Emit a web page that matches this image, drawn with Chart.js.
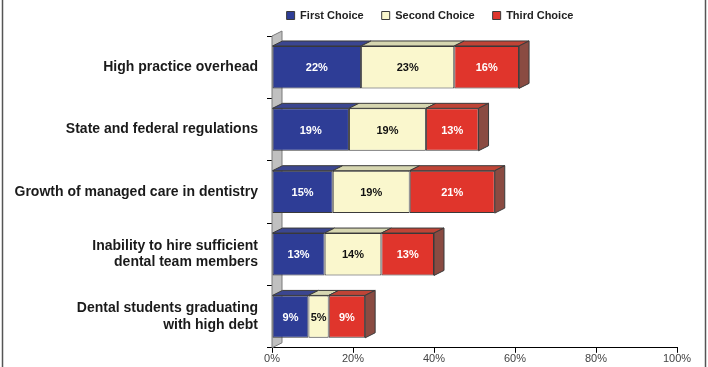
<!DOCTYPE html>
<html>
<head>
<meta charset="utf-8">
<script src="https://cdn.jsdelivr.net/npm/chart.js@4.4.1/dist/chart.umd.min.js"></script>
<style>
  html, body { margin: 0; padding: 0; background: #fff; }
  #wrap { width: 708px; height: 367px; position: relative; }
</style>
</head>
<body>
<div id="wrap"><canvas id="issuesChart"></canvas></div>
<script>
const categories = [
    'High practice overhead',
    'State and federal regulations',
    'Growth of managed care in dentistry',
    ['Inability to hire sufficient', 'dental team members'],
    ['Dental students graduating', 'with high debt']
];
const firstChoice = [22, 19, 15, 13, 9];
const secondChoice = [23, 19, 19, 14, 5];
const thirdChoice = [16, 13, 21, 13, 9];
const xTicks = [0, 20, 40, 60, 80, 100];

// depth of the fake 3D extrusion
const DX = 10, DY = -5;
const topColors = ['#3b4690', '#d6d6b0', '#bf4436'];
const sideColor = '#8a4b42';
const labelColors = ['#ffffff', '#111111', '#ffffff'];
const FONT = '"Liberation Sans", Arial, sans-serif';

// legend sits centred a bit right of the canvas middle
const LEGEND_CENTER = 430, LEGEND_LIFT = 5;

const threeD = {
    id: 'threeD',
    afterLayout(chart) {
        const lg = chart.legend;
        const shift = LEGEND_CENTER - (lg.left + lg.right) / 2;
        lg.left += shift; lg.right += shift;
        lg.top -= LEGEND_LIFT; lg.bottom -= LEGEND_LIFT;
    },
    beforeDatasetsDraw(chart) {
        const ctx = chart.ctx;
        const y = chart.scales.y, x = chart.scales.x;
        const x0 = x.getPixelForValue(0);
        // left wall
        ctx.save();
        ctx.beginPath();
        ctx.moveTo(x0, y.bottom);
        ctx.lineTo(x0, y.top);
        ctx.lineTo(x0 + DX, y.top + DY);
        ctx.lineTo(x0 + DX, y.bottom + DY);
        ctx.closePath();
        ctx.fillStyle = '#c0c0c0';
        ctx.fill();
        ctx.strokeStyle = '#7a7a7a';
        ctx.lineWidth = 1;
        ctx.stroke();
        ctx.restore();
    },
    afterDatasetsDraw(chart) {
        const ctx = chart.ctx;
        const n = chart.data.datasets.length;
        ctx.save();
        ctx.lineWidth = 1;
        ctx.strokeStyle = '#3a3a3a';
        chart.data.datasets.forEach((ds, i) => {
            const meta = chart.getDatasetMeta(i);
            meta.data.forEach(bar => {
                const p = bar.getProps(['x', 'y', 'base', 'height'], true);
                const l = Math.min(p.base, p.x), r = Math.max(p.base, p.x);
                const t = p.y - p.height / 2, b = p.y + p.height / 2;
                ctx.beginPath();
                ctx.moveTo(l, t);
                ctx.lineTo(l + DX, t + DY);
                ctx.lineTo(r + DX, t + DY);
                ctx.lineTo(r, t);
                ctx.closePath();
                ctx.fillStyle = topColors[i];
                ctx.fill();
                ctx.stroke();
                if (i === n - 1) {
                    ctx.beginPath();
                    ctx.moveTo(r, t);
                    ctx.lineTo(r + DX, t + DY);
                    ctx.lineTo(r + DX, b + DY);
                    ctx.lineTo(r, b);
                    ctx.closePath();
                    ctx.fillStyle = sideColor;
                    ctx.fill();
                    ctx.stroke();
                }
            });
        });
        // value labels
        ctx.font = 'bold 11px ' + FONT;
        ctx.textAlign = 'center';
        ctx.textBaseline = 'middle';
        chart.data.datasets.forEach((ds, i) => {
            const meta = chart.getDatasetMeta(i);
            meta.data.forEach((bar, j) => {
                const p = bar.getProps(['x', 'y', 'base'], true);
                ctx.fillStyle = labelColors[i];
                ctx.fillText(ds.data[j] + '%', (p.x + p.base) / 2, p.y + 1);
            });
        });
        ctx.restore();
    },
    afterDraw(chart) {
        // thin frame on the sides
        const ctx = chart.ctx;
        ctx.save();
        ctx.strokeStyle = '#555';
        ctx.lineWidth = 1.5;
        ctx.beginPath();
        ctx.moveTo(2.5, 0); ctx.lineTo(2.5, chart.height);
        ctx.moveTo(705.5, 0); ctx.lineTo(705.5, chart.height);
        ctx.stroke();
        ctx.restore();
    }
};

const ctx = document.getElementById('issuesChart').getContext('2d');
new Chart(ctx, {
    type: 'bar',
    data: {
        labels: categories,
        datasets: [
            { label: 'First Choice', data: firstChoice, backgroundColor: '#2e3d96' },
            { label: 'Second Choice', data: secondChoice, backgroundColor: '#faf7cd' },
            { label: 'Third Choice', data: thirdChoice, backgroundColor: '#e0352c' }
        ]
    },
    options: {
        indexAxis: 'y',
        responsive: true,
        maintainAspectRatio: false,
        animation: false,
        layout: { padding: { left: 0, right: 31, top: -3, bottom: 1 } },
        datasets: {
            bar: {
                borderColor: '#3a3a3a',
                borderWidth: 1,
                borderSkipped: false,
                categoryPercentage: 1,
                barPercentage: 0.68
            }
        },
        plugins: {
            legend: {
                position: 'top',
                labels: {
                    boxWidth: 8,
                    boxHeight: 8,
                    padding: 18,
                    color: '#222',
                    font: { family: FONT, size: 11, weight: 'bold' }
                }
            },
            tooltip: { enabled: false }
        },
        scales: {
            x: {
                stacked: true,
                min: 0,
                max: 100,
                afterBuildTicks(axis) {
                    axis.ticks = xTicks.map(v => ({ value: v }));
                },
                border: { display: true, color: '#000', width: 1 },
                grid: { drawOnChartArea: false, tickLength: 5, color: '#000' },
                ticks: {
                    padding: 0,
                    color: '#444',
                    font: { family: FONT, size: 11 },
                    callback: v => v + '%'
                }
            },
            y: {
                stacked: true,
                afterFit(axis) { axis.width = 272; },
                border: { display: false },
                grid: { drawOnChartArea: false, tickLength: 5, color: '#000' },
                ticks: {
                    padding: 9,
                    color: '#1a1a1a',
                    font: { family: FONT, size: 14, weight: 'bold', lineHeight: 1.15 }
                }
            }
        }
    },
    plugins: [threeD]
});
</script>
</body>
</html>
